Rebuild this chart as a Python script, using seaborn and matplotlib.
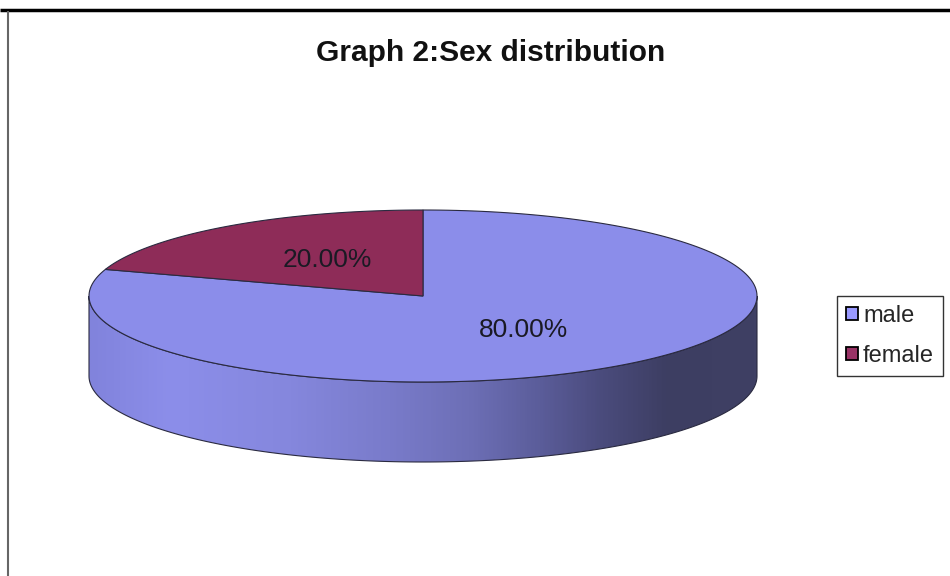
import numpy as np
import seaborn as sns
import matplotlib
matplotlib.use("Agg")
import matplotlib.pyplot as plt
from matplotlib.patches import Polygon, Patch
from matplotlib.colors import LinearSegmentedColormap
from matplotlib.lines import Line2D

# data
categories = ["male", "female"]
values = [80, 20]
labels = ["80.00%", "20.00%"]
top_colors = ["#8b8dea", "#8e2c58"]
legend_colors = ["#9999ff", "#993366"]

sns.set_theme(style="white")
plt.rcParams["font.family"] = ["Liberation Sans", "DejaVu Sans"]

fig = plt.figure(figsize=(9.5, 5.76), dpi=100)
ax = fig.add_axes([0, 0, 1, 1])
ax.set_xlim(0, 950)
ax.set_ylim(0, 576)
ax.axis("off")

# pie geometry (pixels, y up)
cx, cy = 423, 280
rx, ry = 334, 86
depth = 80


def arc(t0, t1, dy=0, n=200):
    t = np.radians(np.linspace(t0, t1, n))
    return np.column_stack([cx + rx * np.cos(t), cy + ry * np.sin(t) + dy])


# slice angles: start at 12 o'clock, go clockwise
total = sum(values)
bounds = []
start = 90.0
for v in values:
    end = start - v / total * 360
    bounds.append((end, start))  # ccw range
    start = end

# side wall gradient
side_cmap = LinearSegmentedColormap.from_list("side", [
    (0.0, "#8183dc"), (0.12, "#8c8eea"), (0.3, "#8587dd"), (0.45, "#797bca"),
    (0.57, "#6d6fb6"), (0.67, "#5c5e9c"), (0.77, "#4a4b7c"), (0.87, "#3d3e62"),
    (1.0, "#3f4064")])
grad = np.linspace(0, 1, 400).reshape(1, -1)

for (a0, a1) in bounds:
    a0m = a0 % 360
    a1m = a0m + (a1 - a0)
    for lo, hi in [(180, 360), (540, 720)]:
        s, e = max(a0m, lo), min(a1m, hi)
        if e <= s:
            continue
        top = arc(s, e)
        bot = arc(e, s, dy=-depth)
        pts = np.vstack([top, bot])
        poly = Polygon(pts, closed=True, facecolor="none", edgecolor="#2a2a40", lw=0.8, zorder=3)
        ax.add_patch(poly)
        im = ax.imshow(grad, cmap=side_cmap, aspect="auto", zorder=2,
                       extent=[cx - rx, cx + rx, cy - ry - depth, cy + ry])
        im.set_clip_path(poly)

# top face wedges
for (a0, a1), col in zip(bounds, top_colors):
    pts = np.vstack([[cx, cy], arc(a0, a1), [cx, cy]])
    ax.add_patch(Polygon(pts, closed=True, facecolor=col, edgecolor="#2a2a40",
                         lw=0.8, zorder=4))

# labels
for (a0, a1), lab in zip(bounds, labels):
    m = np.radians((a0 + a1) / 2)
    ax.text(cx + 0.5 * rx * np.cos(m) + 2, cy + 0.5 * ry * np.sin(m) + 1, lab,
            ha="center", va="center", fontsize=19, color="#1a1a24", zorder=5)

ax.text(491, 515, "Graph 2:Sex distribution", ha="center", va="baseline",
        fontsize=21.5, fontweight="bold", color="#111111")

handles = [Patch(facecolor=c, edgecolor="black", lw=1.3) for c in legend_colors]
leg = ax.legend(handles, categories, loc="center left",
                bbox_to_anchor=(837 / 950, 1 - 336 / 576), fontsize=17,
                handlelength=0.5, handleheight=0.5, handletextpad=0.2,
                labelspacing=0.75, borderpad=0.4, fancybox=False,
                framealpha=1, borderaxespad=0)
leg.get_frame().set_edgecolor("#333333")
leg.get_frame().set_linewidth(1.0)

# chart frame lines
fig.add_artist(Line2D([0, 1], [1 - 9.5 / 576] * 2, transform=fig.transFigure,
                      color="black", lw=2.5, solid_capstyle="butt"))
fig.add_artist(Line2D([7.5 / 950] * 2, [0, 1 - 11 / 576], transform=fig.transFigure,
                      color="#666666", lw=1.5, solid_capstyle="butt"))

fig.savefig("out.png", dpi=100, facecolor="white")
